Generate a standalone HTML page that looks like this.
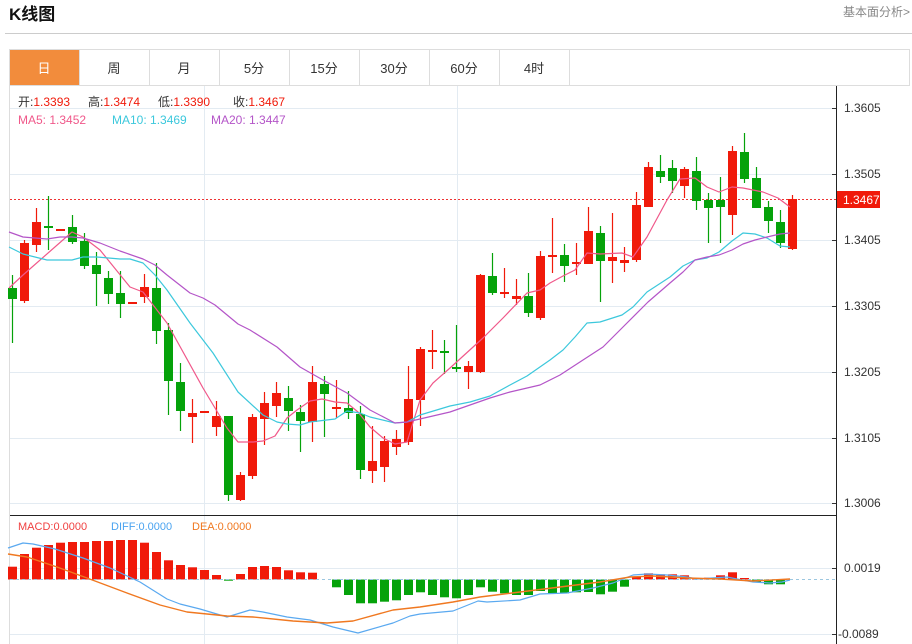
<!DOCTYPE html>
<html><head><meta charset="utf-8"><style>
body{margin:0;background:#fff;width:912px;height:644px;overflow:hidden;font-family:"Liberation Sans","Noto Sans CJK SC",sans-serif;}
</style></head><body>
<svg id="s" width="912" height="644" xmlns="http://www.w3.org/2000/svg" style="position:absolute;left:0;top:0">
<text x="9" y="20" font-size="17" font-weight="bold" fill="#111" font-family="Liberation Sans,Noto Sans CJK SC,sans-serif">K线图</text>
<text x="910" y="16" font-size="12" fill="#888" text-anchor="end" font-family="Liberation Sans,Noto Sans CJK SC,sans-serif">基本面分析&gt;</text>
<line x1="5" y1="33.5" x2="912" y2="33.5" stroke="#ccc"/>
<rect x="9.5" y="49.5" width="900" height="36" fill="#fff" stroke="#ddd"/>
<rect x="10" y="50" width="69" height="35" fill="#f28c3c"/>
<g stroke="#ddd"><line x1="79.5" y1="50" x2="79.5" y2="85"/><line x1="149.5" y1="50" x2="149.5" y2="85"/><line x1="219.5" y1="50" x2="219.5" y2="85"/><line x1="289.5" y1="50" x2="289.5" y2="85"/><line x1="359.5" y1="50" x2="359.5" y2="85"/><line x1="429.5" y1="50" x2="429.5" y2="85"/><line x1="499.5" y1="50" x2="499.5" y2="85"/><line x1="569.5" y1="50" x2="569.5" y2="85"/></g>
<g font-size="13" text-anchor="middle" fill="#333" font-family="Liberation Sans,Noto Sans CJK SC,sans-serif">
<text x="44" y="73" fill="#fff">日</text><text x="114" y="73">周</text><text x="184" y="73">月</text><text x="254" y="73">5分</text><text x="324" y="73">15分</text><text x="394" y="73">30分</text><text x="464" y="73">60分</text><text x="534" y="73">4时</text></g>
<line x1="9.5" y1="86" x2="9.5" y2="644" stroke="#ddd"/>
<g id="grid" stroke="#e3ebf2"></g>
<line x1="836.5" y1="86" x2="836.5" y2="644" stroke="#222"/>
<line x1="10" y1="515.5" x2="836" y2="515.5" stroke="#222"/>
<g id="ax" font-size="12" fill="#333" font-family="Liberation Sans,sans-serif"></g>
<line x1="10" y1="199.5" x2="836" y2="199.5" stroke="#e33" stroke-dasharray="2,2"/>
<g id="c"></g>
<g id="m"></g>
<rect x="837" y="191" width="43" height="17" fill="#f01a0a"/>
<text x="843" y="204" font-size="12" fill="#fff" font-family="Liberation Sans,sans-serif">1.3467</text>
<g font-size="12" font-family="Liberation Sans,Noto Sans CJK SC,sans-serif">
<text x="18" y="106" fill="#333">开:<tspan fill="#f01a0a">1.3393</tspan></text>
<text x="88" y="106" fill="#333">高:<tspan fill="#f01a0a">1.3474</tspan></text>
<text x="158" y="106" fill="#333">低:<tspan fill="#f01a0a">1.3390</tspan></text>
<text x="233" y="106" fill="#333">收:<tspan fill="#f01a0a">1.3467</tspan></text>
<text x="18" y="124" fill="#f0588a">MA5: 1.3452</text>
<text x="112" y="124" fill="#3cc8dc">MA10: 1.3469</text>
<text x="211" y="124" fill="#b455c8">MA20: 1.3447</text>
<text x="18" y="530" font-size="11" fill="#f04040">MACD:0.0000</text>
<text x="111" y="530" font-size="11" fill="#4aa3f0">DIFF:0.0000</text>
<text x="192" y="530" font-size="11" fill="#f07820">DEA:0.0000</text>
</g>
</svg>
<script>
var NS="http://www.w3.org/2000/svg";
function el(p,t,a){var e=document.createElementNS(NS,t);for(var k in a)e.setAttribute(k,a[k]);document.getElementById(p).appendChild(e);return e;}
var gy=[108,174,240,306,372,438,503],gl=["1.3605","1.3505","1.3405","1.3305","1.3205","1.3105","1.3006"];
gy.forEach(function(y,i){el("grid","line",{x1:10,x2:836,y1:y+.5,y2:y+.5});el("grid","line",{x1:832,x2:836,y1:y+.5,y2:y+.5,stroke:"#333"});var t=el("ax","text",{x:844,y:y+4});t.textContent=gl[i];});
[[568,"0.0019"],[634,"-0.0089"]].forEach(function(a){el("grid","line",{x1:10,x2:836,y1:a[0]+.5,y2:a[0]+.5});el("grid","line",{x1:832,x2:836,y1:a[0]+.5,y2:a[0]+.5,stroke:"#333"});var t=el("ax","text",{x:a[1][0]=="-"?838:844,y:a[0]+4});t.textContent=a[1];});
[204,457].forEach(function(x){el("grid","line",{x1:x+.5,x2:x+.5,y1:86,y2:644});});
var R="#f01a0a",G="#05a20a";
var C=[[288,299,275,343,0],[243,301,240,303,1],[222,245,208,252,1],[226,227,196,250,0],[229,230,229,230,1],[227,242,215,244,0],[241,266,233,269,0],[265,274,252,306,0],[278,294,271,304,0],[293,304,271,318,0],[302,303,302,303,1],[287,297,274,303,1],[288,331,263,344,0],[330,381,323,415,0],[382,411,363,431,0],[413,417,399,443,1],[411,412,411,412,1],[416,427,401,436,1],[416,495,416,501,0],[475,500,472,501,1],[417,476,414,479,1],[403,419,392,445,1],[393,406,382,417,1],[398,411,386,431,0],[412,421,405,452,0],[382,422,366,442,1],[384,394,376,437,0],[407,409,380,418,1],[408,413,391,419,0],[414,470,406,479,0],[461,471,426,483,1],[441,467,436,482,1],[439,447,430,455,1],[399,442,366,445,1],[349,400,347,426,1],[350,351,330,369,1],[351,352,340,374,0],[367,369,325,372,0],[366,372,361,389,1],[275,372,274,373,1],[276,293,253,295,0],[292,294,268,298,1],[296,299,279,305,1],[296,313,273,317,0],[256,318,251,320,1],[255,257,218,273,1],[255,266,244,282,0],[262,264,243,275,1],[231,264,207,264,1],[233,261,226,302,0],[257,261,213,283,1],[260,263,247,272,1],[205,260,192,262,1],[167,207,162,207,1],[171,177,155,183,0],[168,181,160,193,0],[169,186,167,198,1],[171,201,157,210,0],[200,208,193,243,0],[200,207,177,243,0],[151,215,146,235,1],[152,179,133,183,0],[178,208,167,208,0],[207,221,201,233,0],[222,243,210,248,0],[199,249,195,250,1]];
C.forEach(function(c,i){var x=12+i*12,col=c[4]?R:G;el("c","line",{x1:x+.5,x2:x+.5,y1:c[2],y2:c[3],stroke:col,"stroke-width":1.2});var h=Math.max(2,c[1]-c[0]);el("c","rect",{x:x-4,y:c[0],width:9,height:h,fill:col});});
function pl(pts,col,w){el("m","polyline",{points:pts,fill:"none",stroke:col,"stroke-width":w||1.2,"stroke-linejoin":"round"});}
pl("9,288 23,275 72,232 83,237 100,250 130,287 143,292 167,323 203,388 227,428 238,442 253,442 263,441 275,436 287,418 297,410 310,401 322,399 335,402 347,403 358,412 370,427 383,438 395,444 407,442 420,400 433,383 450,368 483,338 503,318 527,293 540,290 550,283 563,276 575,270 587,253 600,254 622,253 633,257 647,237 667,200 680,179 695,178 707,187 719,192 732,187 743,188 763,192 778,198 790,207","#f0588a");
pl("9,247 23,254 47,260 72,260 83,257 97,257 120,259 130,259 143,263 155,275 167,290 190,323 213,353 238,392 263,415 277,422 287,424 300,425 310,422 335,419 347,411 360,413 370,417 395,423 407,422 420,415 450,406 470,402 490,396 510,385 527,376 550,360 563,350 575,337 587,323 600,322 622,315 633,307 647,292 670,277 683,266 695,260 707,258 719,252 732,241 743,233 755,234 767,238 780,246 790,247","#3cc8dc");
pl("9,232 23,237 47,239 60,237 72,237 83,238 100,243 120,251 143,259 155,265 167,275 190,293 203,298 215,305 238,324 250,330 277,347 300,367 323,380 347,393 370,410 395,423 407,422 450,412 470,405 490,398 510,392 540,385 560,375 583,360 603,347 623,327 648,302 670,283 683,272 695,260 707,257 719,255 732,250 743,244 755,240 767,237 780,234 790,233","#b455c8");
el("m","line",{x1:10,x2:836,y1:579.5,y2:579.5,stroke:"#9cc7e0","stroke-dasharray":"3,3"});
var M=[566.7,554,547.7,545,542.7,542,542,541,541,540,540,542.7,552,560.3,565,567.3,570,575,580.7,574,567,566,567,570.3,572.3,572.7,579.5,587.3,595,603.3,603.3,601.7,600.3,595,592.3,595,597.3,598.3,595,587.3,591.7,593.3,595,595,591,593.3,593.3,592.3,592,594.3,591.7,586.7,576.7,573.3,574.3,574.3,575.3,578.7,577.7,575.3,572.3,578,582.3,584.3,584.3];
var Z=579.5;M.forEach(function(v,i){var x=12+i*12;if(Math.abs(v-Z)<0.6)return;var up=v<Z;el("c","rect",{x:x-4,y:Math.min(v,Z),width:9,height:Math.abs(v-Z),fill:up?R:G});});
pl("8,548 23,543 33,544 55,549 83,558 110,568 140,582 167,599 180,604 200,609 227,617 250,610 263,612 287,617 310,620 333,627 358,633 393,623 410,616 420,614 453,611 478,601 487,602 520,600 540,594 567,593 593,588 613,583 633,575 647,574 667,575 687,577 697,579 727,577 737,579 753,582 770,583 782,582 790,580","#5aa9f0");
pl("8,554 27,557 57,567 87,578 127,593 160,605 187,612 227,616 253,617 293,621 327,623 353,621 393,610 420,607 453,602 480,597 520,592 560,587 600,582 630,577 653,576 687,578 720,579 753,581 790,579","#f07820",1.4);
</script>
</body></html>
